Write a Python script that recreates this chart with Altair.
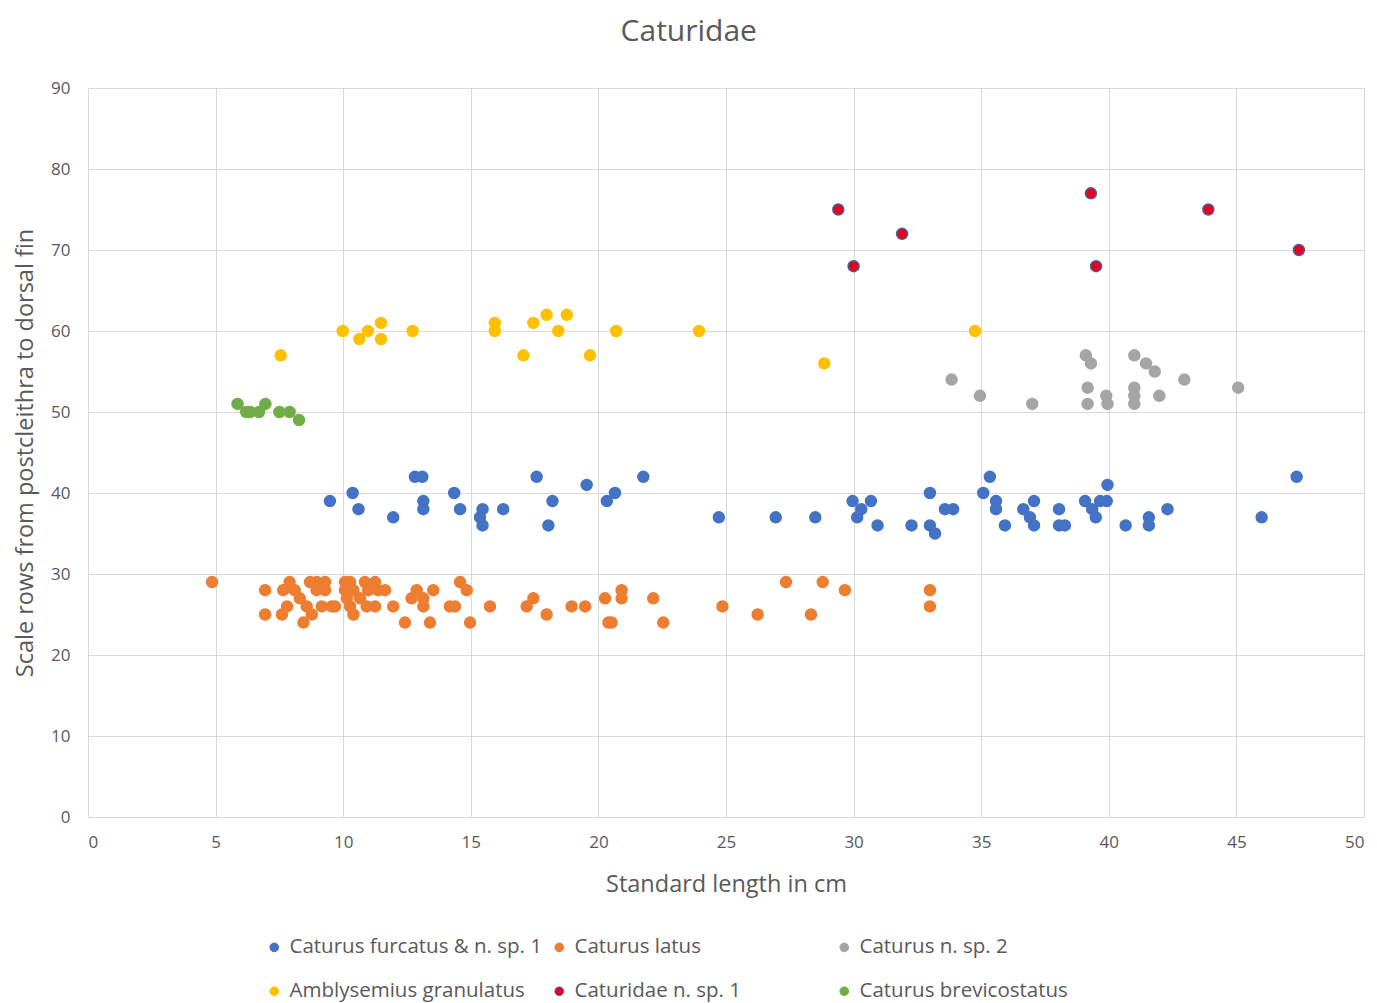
import altair as alt
import pandas as pd

series_names = [
    "Caturus furcatus & n. sp. 1",
    "Caturus latus",
    "Caturus n. sp. 2",
    "Amblysemius granulatus",
    "Caturidae n. sp. 1",
    "Caturus brevicostatus",
]
series_colors = ["#4472C4", "#ED7D31", "#A5A5A5", "#FFC000", "#E8001C", "#70AD47"]
series_strokes = ["#4472C4", "#ED7D31", "#A5A5A5", "#FFC000", "#4A5C9C", "#70AD47"]

furcatus_x = [9.48, 10.37, 10.6, 11.96, 12.81, 13.1, 13.14, 13.14, 14.35, 14.58, 15.46, 15.36, 15.46,
              16.27, 17.58, 18.2, 18.04, 19.54, 20.33, 20.65, 21.76, 24.72, 26.95, 28.5, 29.96, 30.68,
              30.3, 30.14, 30.94, 32.27, 32.99, 32.99, 33.19, 33.58, 33.9, 35.34, 35.08, 35.58, 35.58,
              35.93, 36.65, 37.07, 36.91, 37.07, 38.05, 38.05, 38.28, 39.07, 39.35, 39.49, 39.66, 39.92,
              39.95, 40.66, 41.57, 41.57, 42.3, 45.99, 47.36]
furcatus_y = [39, 40, 38, 37, 42, 42, 39, 38, 40, 38, 38, 37, 36,
              38, 42, 39, 36, 41, 39, 40, 42, 37, 37, 37, 39, 39,
              38, 37, 36, 36, 40, 36, 35, 38, 38, 42, 40, 39, 38,
              36, 38, 39, 37, 36, 38, 36, 36, 39, 38, 37, 39, 39,
              41, 36, 37, 36, 38, 37, 42]

latus_x = [4.86, 6.94, 6.94, 7.65, 7.6, 7.8, 7.9, 8.1, 8.3, 8.44, 8.7, 8.57, 8.77, 8.96, 8.96, 9.16,
           9.29, 9.29, 9.55, 9.68, 10.07, 10.07, 10.14, 10.27, 10.4, 10.27, 10.4, 10.66, 10.85, 10.98,
           10.92, 11.25, 11.25, 11.37, 11.64, 11.96, 12.68, 12.42, 12.88, 13.14, 13.14, 13.4, 13.53,
           14.18, 14.38, 14.58, 14.84, 14.97, 15.75, 17.19, 17.45, 17.97, 18.95, 19.48, 20.26, 20.39,
           20.52, 20.91, 20.91, 22.15, 22.54, 24.86, 26.24, 27.35, 28.33, 28.79, 29.66, 32.99, 32.99]
latus_y = [29, 28, 25, 28, 25, 26, 29, 28, 27, 24, 29, 26, 25, 29, 28, 26,
           29, 28, 26, 26, 29, 28, 27, 26, 25, 29, 28, 27, 29, 28,
           26, 29, 26, 28, 28, 26, 27, 24, 28, 27, 26, 24, 28,
           26, 26, 29, 28, 24, 26, 26, 27, 25, 26, 26, 27, 24,
           24, 28, 27, 27, 24, 26, 25, 29, 25, 29, 28, 28, 26]

sp2_x = [33.84, 34.95, 37.0, 39.1, 39.3, 39.17, 39.17, 39.9, 39.95, 41.0, 41.46, 41.8, 41.0, 41.0,
         41.0, 41.98, 42.96, 45.07]
sp2_y = [54, 52, 51, 57, 56, 53, 51, 52, 51, 57, 56, 55, 53, 52, 51, 52, 54, 53]

granulatus_x = [7.55, 9.98, 10.63, 10.97, 11.48, 11.48, 12.72, 15.94, 15.94, 17.06, 17.45, 17.97,
                18.43, 18.76, 19.67, 20.7, 23.94, 28.85, 34.76]
granulatus_y = [57, 60, 59, 60, 61, 59, 60, 61, 60, 57, 61, 62, 60, 62, 57, 60, 60, 56, 60]

caturidae_x = [29.4, 30.0, 31.9, 39.3, 39.5, 43.9, 47.45]
caturidae_y = [75, 68, 72, 77, 68, 75, 70]

brevi_x = [5.86, 6.2, 6.35, 6.7, 6.95, 7.5, 7.9, 8.27]
brevi_y = [51, 50, 50, 50, 51, 50, 50, 49]

all_x = [furcatus_x, latus_x, sp2_x, granulatus_x, caturidae_x, brevi_x]
all_y = [furcatus_y, latus_y, sp2_y, granulatus_y, caturidae_y, brevi_y]

rows = []
for name, xs, ys in zip(series_names, all_x, all_y):
    for xv, yv in zip(xs, ys):
        rows.append({"series": name, "length": xv, "rows": yv})
df = pd.DataFrame(rows)

FONT = "Open Sans"
TXT = "#595959"

chart = alt.Chart(df).mark_point(filled=True, opacity=1, size=120, strokeWidth=1.5).encode(
    x=alt.X("length:Q", title="Standard length in cm",
            scale=alt.Scale(domain=[0, 50], nice=False),
            axis=alt.Axis(values=list(range(0, 51, 5)), grid=True, domain=False, ticks=False,
                          labelPadding=17, titlePadding=22)),
    y=alt.Y("rows:Q", title="Scale rows from postcleithra to dorsal fin",
            scale=alt.Scale(domain=[0, 90], nice=False),
            axis=alt.Axis(values=list(range(0, 91, 10)), grid=True, domain=False, ticks=False,
                          labelPadding=18, titlePadding=13)),
    color=alt.Color("series:N", title=None,
                    scale=alt.Scale(domain=series_names, range=series_colors),
                    legend=alt.Legend(orient="none", legendX=176, legendY=849, columns=3,
                                      direction="horizontal", gridAlign="all",
                                      symbolType="circle", symbolSize=75, symbolStrokeWidth=1,
                                      labelFont=FONT, labelFontSize=20.5, labelColor=TXT,
                                      columnPadding=6, rowPadding=23, symbolOffset=0,
                                      labelOffset=5, labelLimit=400)),
    stroke=alt.Stroke("series:N", title=None,
                      scale=alt.Scale(domain=series_names, range=series_strokes)),
).properties(
    width=1276,
    height=729,
    title=alt.TitleParams("Caturidae", font=FONT, fontSize=30, fontWeight="normal",
                          color=TXT, offset=32, anchor="middle", frame="bounds"),
    padding={"left": 5, "top": 9, "right": 5, "bottom": 5},
).configure_axis(
    gridColor="#D9D9D9",
    gridWidth=1,
    labelFont=FONT,
    labelFontSize=17,
    labelColor=TXT,
    titleFont=FONT,
    titleFontSize=23.5,
    titleFontWeight="normal",
    titleColor=TXT,
).configure_view(stroke=None)

chart.save("out.html", embed_options={"renderer": "svg", "actions": False})
